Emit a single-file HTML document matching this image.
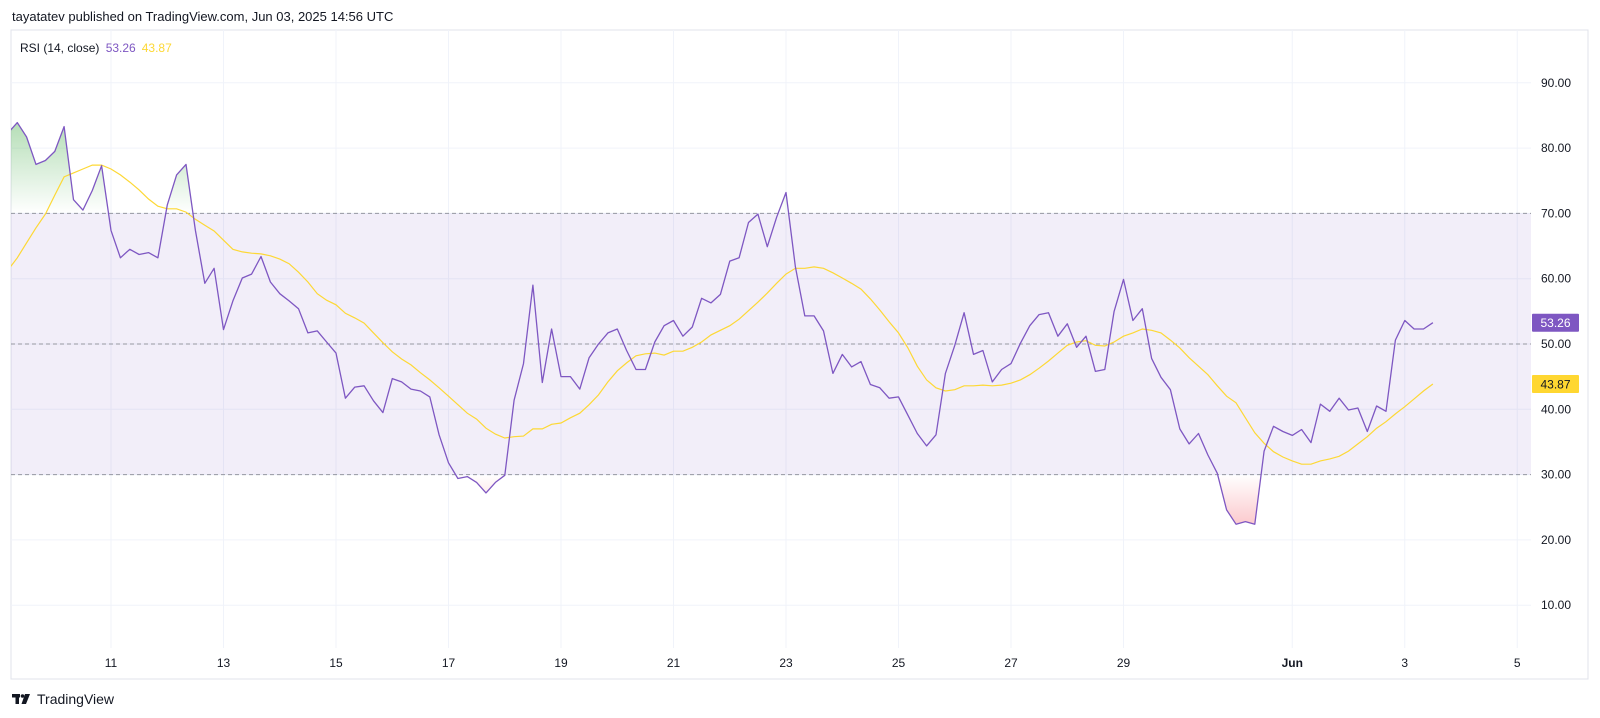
<!DOCTYPE html>
<html><head><meta charset="utf-8"><style>
body{margin:0;background:#fff;width:1600px;height:718px;overflow:hidden;font-family:"Liberation Sans",sans-serif;}
svg{position:absolute;left:0;top:0}
</style></head><body>
<svg id="chart" width="1600" height="718" viewBox="0 0 1600 718"></svg>
<script>
const rsiValues=[82.3,83.9,81.7,77.5,78.1,79.5,83.3,72.1,70.5,73.5,77.3,67.4,63.2,64.5,63.7,64.0,63.2,71.3,75.9,77.5,67.4,59.3,61.6,52.2,56.6,60.1,60.7,63.4,59.5,57.7,56.6,55.4,51.7,52.0,50.3,48.6,41.7,43.4,43.6,41.3,39.5,44.7,44.2,43.1,42.8,41.9,36.1,31.8,29.4,29.7,28.8,27.2,28.8,29.9,41.4,47.0,59.0,44.1,52.3,45.0,45.0,43.1,47.9,50.0,51.7,52.3,49.0,46.1,46.1,50.3,52.8,53.6,51.2,52.6,57.0,56.3,57.6,62.7,63.2,68.6,69.9,64.9,69.4,73.2,61.8,54.3,54.3,52.0,45.5,48.4,46.5,47.3,43.8,43.3,41.7,41.9,39.1,36.3,34.4,36.1,45.5,49.8,54.8,48.4,49.0,44.2,46.1,47.0,50.1,52.8,54.5,54.8,51.2,53.1,49.5,51.2,45.8,46.1,55.0,59.9,53.6,55.4,47.8,44.9,43.0,37.0,34.7,36.3,33.0,30.2,24.6,22.4,22.8,22.4,33.6,37.4,36.6,36.0,36.9,34.9,40.8,39.7,41.7,39.9,40.2,36.6,40.5,39.7,50.6,53.6,52.3,52.3,53.26];
const maValues=[61.3,63.2,65.5,67.8,69.9,72.8,75.6,76.2,76.8,77.4,77.4,76.8,75.9,74.8,73.6,72.2,71.1,70.7,70.7,70.2,69.1,68.2,67.3,65.9,64.5,64.1,63.9,63.8,63.5,63.0,62.3,61.0,59.5,57.7,56.7,56.0,54.7,54.0,53.2,51.7,50.2,48.8,47.7,46.8,45.6,44.5,43.3,42.0,40.7,39.4,38.5,37.1,36.2,35.6,35.8,35.9,37.0,37.0,37.7,37.9,38.7,39.4,40.7,42.2,44.2,45.9,47.1,48.2,48.5,48.6,48.3,48.9,48.9,49.5,50.3,51.4,52.1,52.8,53.8,55.1,56.4,57.8,59.3,60.7,61.6,61.6,61.8,61.6,60.9,60.1,59.3,58.4,56.9,55.2,53.4,51.7,49.4,46.6,44.5,43.3,42.8,43.0,43.6,43.6,43.7,43.6,43.7,44.0,44.5,45.3,46.3,47.4,48.6,49.8,50.3,50.5,49.8,49.7,50.3,51.2,51.7,52.3,52.1,51.7,50.6,49.4,47.9,46.6,45.3,43.6,42.0,41.0,38.7,36.4,34.8,33.5,32.7,32.1,31.6,31.6,32.1,32.4,32.8,33.6,34.7,35.8,37.1,38.1,39.3,40.4,41.6,42.8,43.87];
const yTicks=[10,20,30,40,50,60,70,80,90];
const xTickDays=[11,13,15,17,19,21,23,25,27,29,32,34,36];
const xTickLabels=["11","13","15","17","19","21","23","25","27","29","Jun","3","5"];
const startDay=9.1667, stepDay=1/6;

const NS="http://www.w3.org/2000/svg";
const svg=document.getElementById('chart');
const L=11,R=1531,T=30,B=648;
const yS=v=>344-(v-50)*6.53;
const xS=d=>111+(d-11)*56.25;
const xI=i=>xS(startDay+i*stepDay);
function el(tag,attrs,parent){const e=document.createElementNS(NS,tag);for(const k in attrs)e.setAttribute(k,attrs[k]);(parent||svg).appendChild(e);return e;}

const defs=el('defs',{});
defs.innerHTML='<clipPath id="plot"><rect x="11" y="30" width="1520" height="618"/></clipPath>'+
'<clipPath id="above"><rect x="11" y="30" width="1520" height="'+(yS(70)-30)+'"/></clipPath>'+
'<clipPath id="below"><rect x="11" y="'+yS(30)+'" width="1520" height="'+(648-yS(30))+'"/></clipPath>'+
'<linearGradient id="gG" x1="0" y1="'+yS(85)+'" x2="0" y2="'+yS(70)+'" gradientUnits="userSpaceOnUse"><stop offset="0" stop-color="#4caf50" stop-opacity="0.45"/><stop offset="1" stop-color="#4caf50" stop-opacity="0"/></linearGradient>'+
'<linearGradient id="gR" x1="0" y1="'+yS(30)+'" x2="0" y2="'+yS(20)+'" gradientUnits="userSpaceOnUse"><stop offset="0" stop-color="#f23645" stop-opacity="0"/><stop offset="1" stop-color="#f23645" stop-opacity="0.35"/></linearGradient>';

const frame=el('rect',{x:11,y:30,width:1577,height:649,fill:'none',stroke:'#e0e3eb','stroke-width':1});



yTicks.forEach(v=>{
  const g=el('line',{x1:L,x2:R,y1:yS(v),y2:yS(v),stroke:'#f0f3fa','stroke-width':1});
  
  
});
xTickDays.forEach(d=>{
  const g=el('line',{x1:xS(d),x2:xS(d),y1:T,y2:B,stroke:'#f0f3fa','stroke-width':1});
  
  
});
const band=el('rect',{x:L,y:yS(70),width:R-L,height:yS(30)-yS(70),fill:'#7e57c2','fill-opacity':0.1});


[70,50,30].forEach(v=>{
  const d=el('line',{x1:L,x2:R,y1:yS(v),y2:yS(v),stroke:'#9598a1','stroke-width':1,'stroke-dasharray':'4 3'});
  
  
});

const pts=rsiValues.map((v,i)=>[xI(i),yS(v)]);
const lineStr=pts.map(p=>p[0].toFixed(1)+','+p[1].toFixed(1)).join(' ');
const last=pts.length-1;
const gfill=el('polygon',{points:lineStr+' '+pts[last][0]+','+yS(70)+' '+pts[0][0]+','+yS(70),fill:'url(#gG)','clip-path':'url(#above)'});


const rfill=el('polygon',{points:lineStr+' '+pts[last][0]+','+yS(30)+' '+pts[0][0]+','+yS(30),fill:'url(#gR)','clip-path':'url(#below)'});



const g=el('g',{'clip-path':'url(#plot)'});
const ma=el('polyline',{points:maValues.map((v,i)=>xI(i).toFixed(1)+','+yS(v).toFixed(1)).join(' '),fill:'none',stroke:'#fdd835','stroke-width':1.2},g);


const rl=el('polyline',{points:lineStr,fill:'none',stroke:'#7e57c2','stroke-width':1.3,'stroke-linejoin':'round'},g);



yTicks.forEach(v=>{
  const t=el('text',{x:1541,y:yS(v)+4,'font-size':12,fill:'#131722'});
  t.textContent=v.toFixed(2);
  
  
});
xTickDays.forEach((d,i)=>{
  const t=el('text',{x:xS(d),y:667,'font-size':12,fill:'#131722','text-anchor':'middle','font-weight':xTickLabels[i]==='Jun'?'bold':'normal'});
  t.textContent=xTickLabels[i];
  
  
});
function badge(v,bg,fg,name){
  const y=yS(v);
  const r=el('rect',{x:1532,y:y-9,width:47,height:18,fill:bg,rx:1});
  
  
  const t=el('text',{x:1555.5,y:y+4.5,'font-size':12,fill:fg,'text-anchor':'middle'});
  t.textContent=v.toFixed(2);
  
  
}
badge(rsiValues[last],'#7e57c2','#fff','rsi-value');
badge(maValues[maValues.length-1],'#ffd731','#131722','ma-value');

const h=el('text',{x:12,y:21,'font-size':13,fill:'#131722'});
h.textContent='tayatatev published on TradingView.com, Jun 03, 2025 14:56 UTC';


const lg=el('text',{x:20,y:52,'font-size':12,fill:'#131722'});


lg.innerHTML='RSI (14, close) <tspan fill="#7e57c2" dx="3">53.26</tspan><tspan fill="#fdd835" dx="6">43.87</tspan>';

const lgG=el('g',{});


el('rect',{x:12,y:694,width:8,height:3.5,fill:'#131722'},lgG);
el('rect',{x:15.5,y:694,width:3.5,height:10,fill:'#131722'},lgG);
el('circle',{cx:22.5,cy:696,r:1.8,fill:'#131722'},lgG);
el('polygon',{points:'25,694 30,694 26,704 21.5,704',fill:'#131722'},lgG);
const lt=el('text',{x:37,y:704,'font-size':14,fill:'#131722'},lgG);
lt.textContent='TradingView';
</script>
</body></html>
